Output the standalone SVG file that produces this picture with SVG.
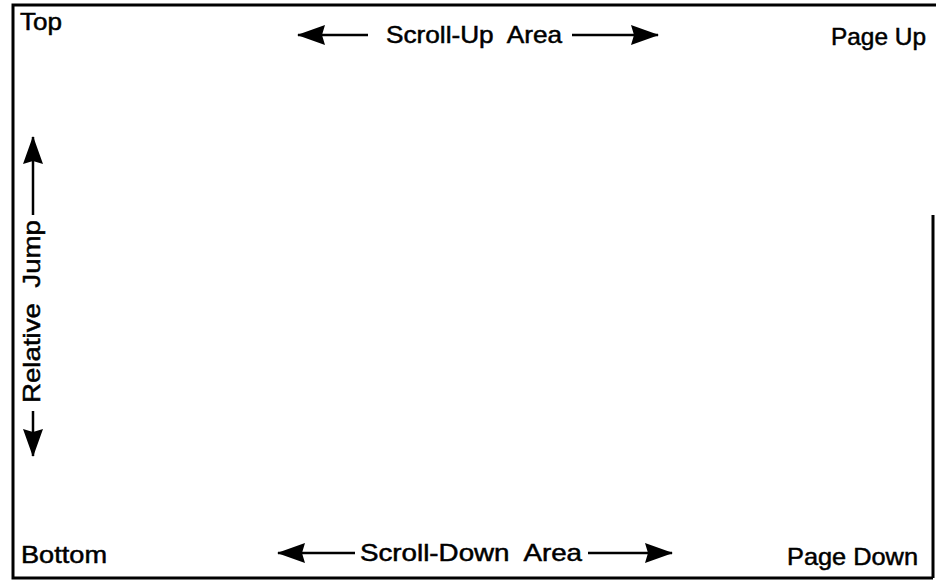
<svg xmlns="http://www.w3.org/2000/svg" width="936" height="581" viewBox="0 0 936 581">
<defs>
<style>
.t{font-family:"Liberation Sans",Arial,sans-serif;font-size:24px;fill:#000;stroke:#000;stroke-width:0.5;}
.ln{stroke:#000;stroke-width:2.5;fill:none;}
.fr{stroke:#000;stroke-width:3;fill:none;}
</style>
<marker id="ah" viewBox="0 0 28 20" refX="27" refY="10" markerWidth="28" markerHeight="20" markerUnits="userSpaceOnUse" orient="auto">
<path d="M0,0 L28,10 L0,20 L3,10 Z" fill="#000"/>
</marker>
</defs>
<rect width="936" height="581" fill="#fff"/>
<g id="frame">
<polyline class="fr" points="936,5 13,5 13,578 933,578"/>
<line class="fr" x1="933" y1="215" x2="933" y2="578"/>
</g>
<g id="top"><text class="t" x="20" y="30" textLength="42" lengthAdjust="spacingAndGlyphs">Top</text></g>
<g id="page-up"><text class="t" x="831" y="45" textLength="95" lengthAdjust="spacingAndGlyphs">Page Up</text></g>
<g id="scroll-up"><text class="t" x="386" y="43" textLength="176" lengthAdjust="spacingAndGlyphs" xml:space="preserve">Scroll-Up  Area</text></g>
<g id="bottom"><text class="t" x="21" y="563" textLength="86" lengthAdjust="spacingAndGlyphs">Bottom</text></g>
<g id="scroll-down"><text class="t" x="360" y="561" textLength="222" lengthAdjust="spacingAndGlyphs" xml:space="preserve">Scroll-Down  Area</text></g>
<g id="page-down"><text class="t" x="787" y="565" textLength="131" lengthAdjust="spacingAndGlyphs">Page Down</text></g>
<g id="relative-jump"><text class="t" transform="translate(40,403) rotate(-90)" textLength="183" lengthAdjust="spacingAndGlyphs" xml:space="preserve">Relative  Jump</text></g>
<g id="connectors">
<line class="ln" x1="368" y1="35" x2="298" y2="35" marker-end="url(#ah)"/>
<line class="ln" x1="572" y1="35" x2="658" y2="35" marker-end="url(#ah)"/>
<line class="ln" x1="355" y1="553" x2="278" y2="553" marker-end="url(#ah)"/>
<line class="ln" x1="588" y1="553" x2="672" y2="553" marker-end="url(#ah)"/>
<line class="ln" x1="33" y1="215" x2="33" y2="137" marker-end="url(#ah)"/>
<line class="ln" x1="33" y1="411" x2="33" y2="456" marker-end="url(#ah)"/>
</g>
</svg>
